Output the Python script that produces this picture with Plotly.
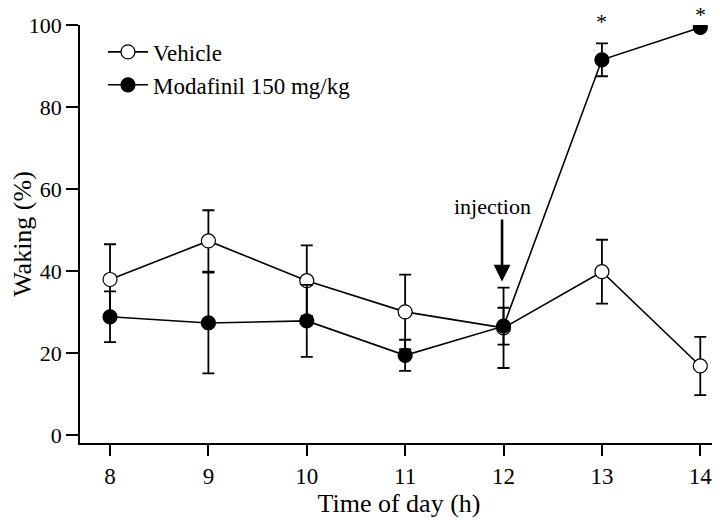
import plotly.graph_objects as go

# time of day (h)
hours = [8, 9, 10, 11, 12, 13, 14]

# waking (%) mean and SEM
vehicle = [37.9, 47.3, 37.6, 30.0, 26.1, 39.8, 16.8]
vehicle_err = [8.6, 7.5, 8.6, 9.1, 9.8, 7.8, 7.1]

modafinil = [28.8, 27.3, 27.8, 19.4, 26.5, 91.5, 99.4]
modafinil_err = [6.2, 12.3, 8.8, 3.8, 4.5, 4.0, 0.5]

star_hours = [13, 14]
star_levels = [1.043, 1.060]   # paper y of the star tops, above the axis

y_ticks = [0, 20, 40, 60, 80, 100]

FONT = "Liberation Serif, Times New Roman, serif"

fig = go.Figure()

fig.add_trace(go.Scatter(
    x=hours, y=vehicle,
    mode="lines+markers",
    name="Vehicle",
    line=dict(color="black", width=1.6),
    marker=dict(symbol="circle", size=14, color="white",
                line=dict(color="black", width=1.2)),
    error_y=dict(type="data", array=vehicle_err, color="black",
                 thickness=1.8, width=6),
))

fig.add_trace(go.Scatter(
    x=hours, y=modafinil,
    mode="lines+markers",
    name="Modafinil 150 mg/kg",
    line=dict(color="black", width=1.6),
    marker=dict(symbol="circle", size=14, color="black",
                line=dict(color="black", width=1.2)),
    error_y=dict(type="data", array=modafinil_err, color="black",
                 thickness=1.8, width=6),
))

# significance stars (drawn above the plot area)
for h, lv in zip(star_hours, star_levels):
    fig.add_annotation(x=h, y=lv, text="*", showarrow=False,
                       xref="x", yref="paper", yanchor="top",
                       font=dict(family=FONT, size=22, color="black"))

# injection arrow
fig.add_annotation(x=11.985, y=37.4, ax=11.985, ay=52.9,
                   xref="x", yref="y", axref="x", ayref="y",
                   text="", showarrow=True, arrowhead=2, arrowsize=1.3,
                   arrowwidth=2.6, arrowcolor="black")
fig.add_annotation(x=11.89, y=55.6, text="injection", showarrow=False,
                   xref="x", yref="y", yanchor="middle",
                   font=dict(family=FONT, size=22, color="black"))

fig.update_layout(
    width=720, height=520,
    margin=dict(l=72, r=10, t=17, b=85),
    paper_bgcolor="white", plot_bgcolor="white",
    font=dict(family=FONT, size=22, color="black"),
    showlegend=True,
    legend=dict(x=0.036, y=0.987, xanchor="left", yanchor="top",
                bgcolor="rgba(0,0,0,0)", tracegroupgap=0, itemwidth=40,
                font=dict(family=FONT, size=23)),
)

fig.update_xaxes(
    range=[7.695, 14.18],
    tickvals=hours,
    automargin=False,
    showline=True, linecolor="black", linewidth=1.8,
    ticks="outside", ticklen=11, tickwidth=1.8, tickcolor="black",
    tickfont=dict(size=23),
    showgrid=False, zeroline=False,
    title=dict(text="Time of day (h)", standoff=6),
)

fig.update_yaxes(
    range=[-2, 100],
    tickvals=y_ticks,
    automargin=False,
    showline=True, linecolor="black", linewidth=1.8,
    ticks="outside", ticklen=12, tickwidth=1.8, tickcolor="black",
    tickfont=dict(size=22),
    showgrid=False, zeroline=False,
    title=dict(text="Waking (%)", standoff=0),
)

fig.write_html("out.html")
